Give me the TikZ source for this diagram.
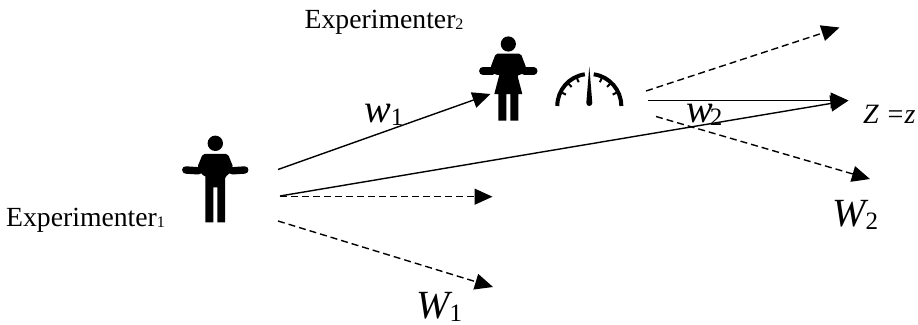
\documentclass[tikz,border=0pt]{standalone}
\usepackage{fontspec}
\setmainfont{Liberation Serif}
\usetikzlibrary{arrows.meta}
\newcommand{\smallsub}[1]{\raisebox{-1pt}{\fontsize{16}{16}\selectfont #1}}
\newcommand{\bigsub}[1]{\raisebox{-3pt}{\fontsize{25}{25}\selectfont\upshape #1}}
\tikzset{
  arrowline/.style={line width=1.4pt,-{Triangle[length=18pt,width=16pt]}},
  dashline/.style={arrowline,dash pattern=on 7pt off 4pt},
  plain/.style={font=\fontsize{27.7}{27.7}\selectfont,inner sep=0pt,anchor=base west},
  varlabel/.style={font=\fontsize{40}{40}\selectfont\itshape,inner sep=0pt,anchor=base west},
  zlabel/.style={font=\fontsize{28}{28}\selectfont\itshape,inner sep=0pt,anchor=base west},
  armline/.style={draw=black,line width=7.4pt,line cap=round,line join=round},
  gaugearc/.style={draw=black,line width=4pt,line cap=butt},
  gaugetick/.style={draw=black,line width=2pt}
}
\begin{document}
\begin{tikzpicture}[x=1pt,y=-1pt]
\useasboundingbox (0,0) rectangle (918,324);
\fill[white] (0,0) rectangle (918,324);

% man
\begin{scope}[shift={(215.3,143.3)}]
  \fill[black] (0,0) circle (7.7);
  \draw[armline] (-29.5,26.7) -- (-17,27.5);
  \draw[armline] (29.5,26.7) -- (17,27.5);
  \fill[black,rounded corners=2pt]
    (-12.5,10.5) -- (12.5,10.5) -- (18,24) -- (14,31) -- (9.7,33)
    [sharp corners] -- (9.7,79) -- (2,79) -- (2,44) -- (-2,44) -- (-2,79) -- (-10,79) -- (-10,33)
    [rounded corners=2pt] -- (-14,31) -- (-18,24) -- cycle;
\end{scope}

% woman
\begin{scope}[shift={(508.3,44)}]
  \fill[black] (0,0) circle (7.6);
  \draw[armline] (-25.5,27) -- (-16,27);
  \draw[armline] (25.5,27) -- (16,27);
  \fill[black,rounded corners=2pt]
    (-12.5,9.5) -- (12.5,9.5) -- (18,24) -- (14,30.5) -- (9,31)
    [sharp corners] -- (14,50) -- (10,50) -- (10,76.7) -- (2,76.7) -- (2,50) -- (-2,50) -- (-2,76.7) -- (-10,76.7) -- (-10,50) -- (-14,50) -- (-9,31)
    [rounded corners=2pt] -- (-14,30.5) -- (-18,24) -- cycle;
\end{scope}

% gauge
\begin{scope}[shift={(589.3,106)}]
  \draw[gaugearc] (-180:32) arc[start angle=-180,end angle=-98,radius=32];
  \draw[gaugearc] (0:32) arc[start angle=0,end angle=-82,radius=32];
  \foreach \a in {-154,-133,-114,-26,-47,-66} {
    \draw[gaugetick] (\a:31) -- (\a:26);
  }
  \fill[black] (-3,-3) -- (0,-39.5) -- (3,-3) arc[start angle=0,end angle=180,radius=3] -- cycle;
\end{scope}

% labels
\node[plain] (exptwo) at (304.5,28) {Experimenter\smallsub{2}};
\node[plain] (expone) at (6,226) {Experimenter\smallsub{1}};
\node[varlabel] (wone) at (364,122.5) {w\bigsub{1}};
\node[varlabel] (wtwo) at (686,122) {w\kern-3pt\bigsub{2}};
\node[zlabel] (zlab) at (863,123) {Z =z};
\node[varlabel] (bigwtwo) at (832,226.5) {W\bigsub{2}};
\node[varlabel] (bigwone) at (416,318) {W\bigsub{1}};

% connector ends
\coordinate (a1) at (278,169.5);
\coordinate (b1) at (490.5,94);
\coordinate (a2) at (280,196);
\coordinate (b2) at (848.5,100.5);
\coordinate (a3) at (648,100.5);
\coordinate (a4) at (280,196.7);
\coordinate (b4) at (492.5,196.7);
\coordinate (a5) at (278,221);
\coordinate (b5) at (493,287);
\coordinate (a6) at (646,91);
\coordinate (b6) at (839.5,27.5);
\coordinate (a7) at (656,116.5);
\coordinate (b7) at (870,179);

\draw[arrowline] (a1) -- (b1);
\draw[arrowline] (a2) -- (b2);
\draw[arrowline] (a3) -- (b2);
\draw[dashline] (a4) -- (b4);
\draw[dashline] (a5) -- (b5);
\draw[dashline] (a6) -- (b6);
\draw[dashline] (a7) -- (b7);
\end{tikzpicture}
\end{document}
